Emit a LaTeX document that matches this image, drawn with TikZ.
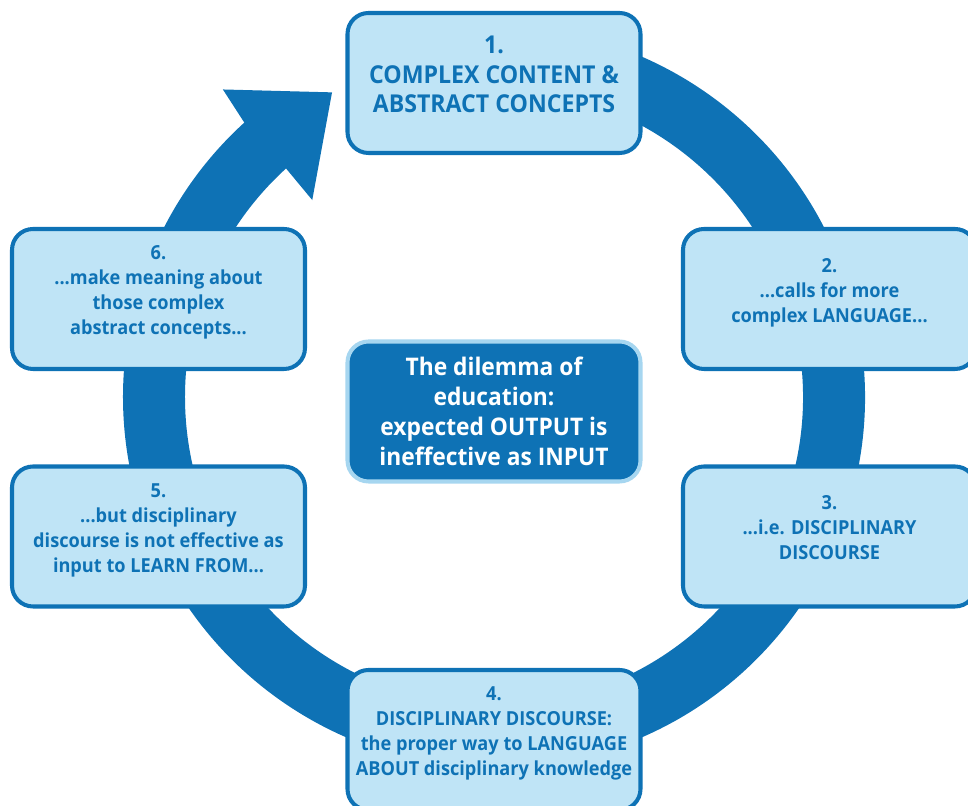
\documentclass[tikz,border=0pt]{standalone}
\usepackage{fontspec}
\setmainfont{Open Sans}[FakeStretch=0.94]
\usetikzlibrary{backgrounds}
\definecolor{cycblue}{RGB}{14,114,181}
\definecolor{cyclight}{RGB}{191,228,246}
\definecolor{cycpale}{RGB}{166,214,240}

\tikzset{
  stagebox/.style={draw=cycblue, fill=cyclight, line width=2.3pt, rounded corners=0.42cm,
    minimum width=5.86cm, minimum height=2.8cm, align=center, text=cycblue,
    font=\bfseries\fontsize{11}{14.2}\selectfont, text depth=0.35cm},
  hubbox/.style={draw=cycpale, fill=cycblue, line width=2.3pt, rounded corners=0.42cm,
    minimum width=5.86cm, minimum height=2.8cm, align=center, text=white,
    font=\bfseries\fontsize{13.8}{17}\selectfont}
}

\begin{document}
\begin{tikzpicture}
  \useasboundingbox (-9.88,-8.18) rectangle (9.48,7.94);
  \node[stagebox, font=\bfseries\fontsize{14}{17}\selectfont] (c1) at (0,6.28) {1.\\COMPLEX CONTENT \&\\ABSTRACT CONCEPTS};
  \node[stagebox] (c2) at (6.71,1.96) {2.\\...calls for more\\complex LANGUAGE...};
  \node[stagebox] (c3) at (6.71,-2.79) {3.\\...i.e. DISCIPLINARY\\DISCOURSE};
  \node[stagebox] (c4) at (0,-6.86) {4.\\DISCIPLINARY DISCOURSE:\\the proper way to LANGUAGE\\ABOUT disciplinary knowledge};
  \node[stagebox] (c5) at (-6.71,-2.79) {5.\\...but disciplinary\\discourse is not effective as\\input to LEARN FROM...};
  \node[stagebox] (c6) at (-6.71,1.96) {6.\\...make meaning about\\those complex\\abstract concepts...};
  \node[hubbox] (dilemma) at (0,-0.29) {The dilemma of\\education:\\expected OUTPUT is\\ineffective as INPUT};

  % the cycle runs clockwise from stage 1 and comes back to it
  \begin{scope}[on background layer]
    \draw[cycblue, line width=1.24cm] (100:6.8) arc[start angle=100, end angle=-228, radius=6.8];
    \fill[cycblue] (132.3:7.42) -- (131.4:8.2) -- (118:6.9) -- (132.7:5.36) -- (132.3:6.18) -- cycle;
  \end{scope}
\end{tikzpicture}
\end{document}
